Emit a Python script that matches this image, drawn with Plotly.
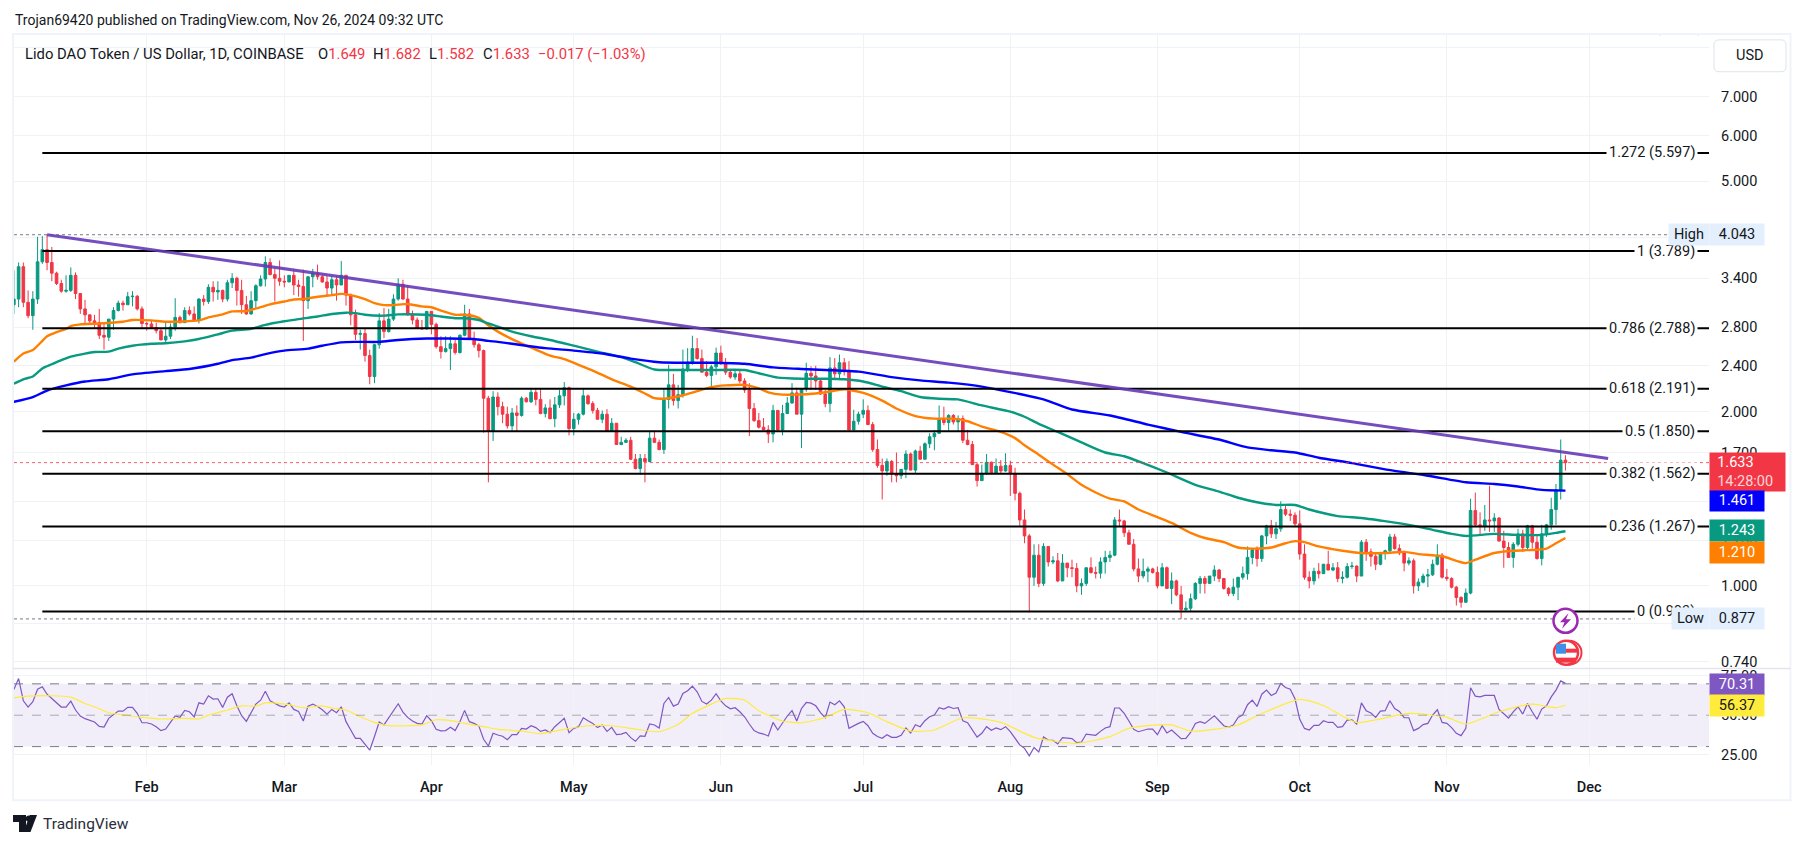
import math
import pandas as pd
import plotly.graph_objects as go

first_open = 3.06
closes = [
3.13,3.56,3.09,2.93,3.13,3.63,3.81,3.62,3.47,3.33,
3.23,3.24,3.44,3.20,3.01,2.94,2.87,2.85,2.71,2.69,
2.89,2.99,3.08,3.06,3.16,3.165,3.01,2.84,2.835,2.795,
2.76,2.66,2.70,2.80,2.91,2.85,2.99,2.95,2.88,3.13,
3.10,3.28,3.22,3.24,3.13,3.34,3.40,3.24,3.06,2.95,
3.11,3.30,3.39,3.62,3.45,3.40,3.36,3.35,3.44,3.31,
3.29,3.11,3.42,3.47,3.42,3.35,3.27,3.38,3.31,3.44,
3.18,2.94,2.72,2.73,2.50,2.30,2.61,2.87,2.75,2.89,
3.13,3.32,3.13,2.94,2.88,2.79,2.78,2.98,2.83,2.59,
2.54,2.57,2.62,2.53,2.71,2.95,2.67,2.61,2.55,2.11,
1.85,2.12,2.04,1.98,1.89,1.99,1.97,2.11,2.08,2.16,
2.10,1.985,2.03,1.945,2.055,2.13,2.20,1.87,1.94,1.98,
2.13,2.065,2.01,1.94,1.98,1.85,1.91,1.755,1.77,1.785,
1.655,1.595,1.66,1.64,1.80,1.77,1.72,2.10,2.225,2.09,
2.14,2.37,2.435,2.57,2.47,2.34,2.31,2.39,2.525,2.42,
2.34,2.295,2.325,2.26,2.18,2.025,1.93,1.88,1.86,1.83,
2.01,1.86,1.985,2.07,2.155,1.98,2.19,2.33,2.305,2.26,
2.145,2.065,2.38,2.325,2.43,2.345,1.86,1.925,1.98,2.01,
1.90,1.72,1.615,1.58,1.64,1.56,1.55,1.59,1.69,1.585,
1.71,1.655,1.76,1.81,1.835,1.94,1.915,1.97,1.92,1.945,
1.785,1.755,1.62,1.52,1.565,1.635,1.565,1.61,1.58,1.615,
1.565,1.445,1.30,1.22,1.035,1.13,1.01,1.17,1.10,1.105,
1.02,1.095,1.075,1.072,1.00,1.01,1.075,1.055,1.052,1.10,
1.12,1.13,1.30,1.295,1.235,1.18,1.07,1.04,1.06,1.07,
1.055,1.00,1.075,.99,1.02,.965,.91,.915,.95,1.01,
1.03,1.01,1.04,1.065,1.03,.99,.97,.995,1.035,1.05,
1.12,1.155,1.115,1.22,1.27,1.23,1.255,1.355,1.33,1.325,
1.28,1.135,1.035,1.02,1.06,1.05,1.09,1.065,1.075,1.03,
1.035,1.08,1.082,1.04,1.19,1.145,1.125,1.09,1.14,1.15,
1.215,1.16,1.14,1.095,1.105,1.00,1.015,1.04,1.045,1.09,
1.13,1.035,1.03,.995,.955,.937,.972,1.35,1.275,1.27,
1.30,1.295,1.31,1.195,1.165,1.12,1.18,1.23,1.165,1.27,
1.19,1.115,1.23,1.275,1.355,1.465,1.649,1.633]

highs = [
3.51,3.62,3.62,3.24,3.23,4.01,4.02,4.043,3.85,3.49,
3.38,3.44,3.55,3.48,3.20,3.12,2.94,2.94,3.01,2.85,
2.89,3.03,3.11,3.11,3.22,3.23,3.18,3.04,2.86,2.87,
2.85,2.78,2.86,2.84,3.14,2.93,3.03,3.04,3.04,3.14,
3.18,3.32,3.36,3.36,3.25,3.38,3.47,3.42,3.38,3.17,
3.23,3.32,3.44,3.71,3.68,3.53,3.65,3.44,3.44,3.53,
3.38,3.52,3.43,3.53,3.59,3.45,3.43,3.43,3.43,3.64,
3.44,3.20,3.00,2.77,2.79,2.56,2.62,2.96,3.02,3.01,
3.19,3.40,3.38,3.31,2.99,2.91,2.88,2.98,2.98,2.85,
2.70,2.70,2.70,2.66,2.72,3.06,3.01,2.75,2.63,2.56,
2.13,2.17,2.16,2.08,2.04,2.03,2.05,2.125,2.12,2.19,
2.19,2.19,2.06,2.10,2.12,2.18,2.25,2.21,1.99,1.99,
2.19,2.14,2.085,2.03,2.01,2.02,1.95,1.91,1.81,1.80,
1.81,1.69,1.69,1.69,1.85,1.855,1.79,2.195,2.41,2.325,
2.225,2.56,2.575,2.705,2.68,2.56,2.445,2.41,2.58,2.60,
2.475,2.37,2.37,2.37,2.285,2.24,2.07,1.99,1.95,1.895,
2.055,2.01,2.055,2.12,2.24,2.20,2.19,2.43,2.395,2.40,
2.285,2.18,2.485,2.475,2.51,2.475,2.445,2.015,2.00,2.10,
2.05,1.92,1.79,1.66,1.66,1.65,1.70,1.59,1.715,1.70,
1.72,1.745,1.77,1.835,1.86,2.05,2.04,1.98,1.98,1.97,
1.97,1.86,1.78,1.635,1.62,1.69,1.64,1.66,1.65,1.695,
1.645,1.60,1.455,1.355,1.23,1.18,1.18,1.185,1.17,1.125,
1.14,1.135,1.095,1.11,1.095,1.03,1.075,1.12,1.08,1.12,
1.15,1.15,1.315,1.355,1.30,1.25,1.205,1.115,1.115,1.08,
1.075,1.08,1.095,1.08,1.055,1.025,1.00,.94,.97,1.015,
1.04,1.04,1.04,1.085,1.07,1.03,.995,1.03,1.035,1.08,
1.17,1.16,1.17,1.225,1.275,1.30,1.29,1.40,1.38,1.355,
1.34,1.35,1.18,1.06,1.075,1.095,1.09,1.15,1.095,1.10,
1.06,1.095,1.10,1.085,1.20,1.205,1.16,1.14,1.145,1.155,
1.23,1.23,1.18,1.15,1.12,1.115,1.03,1.05,1.07,1.11,
1.18,1.14,1.07,1.035,1.00,.96,.99,1.415,1.45,1.34,
1.38,1.49,1.335,1.315,1.245,1.19,1.19,1.255,1.25,1.275,
1.275,1.23,1.275,1.28,1.42,1.50,1.79,1.682]

lows = [
2.95,3.03,3.03,2.90,2.77,3.07,3.60,3.51,3.36,3.31,
3.21,3.21,3.22,3.13,2.95,2.83,2.84,2.79,2.67,2.56,
2.65,2.77,2.98,2.99,3.06,3.04,2.99,2.79,2.76,2.78,
2.73,2.66,2.63,2.67,2.76,2.84,2.86,2.93,2.87,2.84,
3.05,3.07,3.10,3.12,3.09,3.10,3.27,3.05,2.95,2.94,
2.94,3.02,3.29,3.29,3.44,3.10,3.30,3.28,3.35,3.18,
3.16,2.65,3.01,3.28,3.38,3.34,3.18,3.18,3.11,3.31,
3.05,2.82,2.66,2.56,2.44,2.23,2.24,2.57,2.68,2.74,
2.87,3.11,3.12,2.93,2.83,2.78,2.77,2.77,2.72,2.57,
2.47,2.53,2.36,2.51,2.52,2.70,2.66,2.58,2.48,1.84,
1.51,1.78,1.97,1.91,1.87,1.85,1.85,1.96,2.075,2.07,
2.05,1.98,1.955,1.94,1.88,2.03,2.05,1.82,1.82,1.90,
1.97,2.055,1.985,1.94,1.91,1.85,1.85,1.755,1.75,1.765,
1.65,1.59,1.555,1.51,1.635,1.765,1.715,1.69,2.025,2.05,
2.025,2.115,2.34,2.41,2.46,2.34,2.295,2.205,2.315,2.41,
2.315,2.28,2.27,2.24,2.155,1.815,1.92,1.87,1.855,1.765,
1.77,1.855,1.82,1.98,2.065,1.98,1.73,2.165,2.18,2.18,
2.14,2.035,1.995,2.28,2.285,2.31,1.86,1.855,1.90,1.95,
1.895,1.705,1.60,1.41,1.55,1.51,1.51,1.53,1.535,1.585,
1.56,1.655,1.655,1.73,1.715,1.83,1.895,1.855,1.90,1.85,
1.765,1.75,1.62,1.485,1.52,1.555,1.56,1.565,1.565,1.575,
1.43,1.405,1.27,1.185,.90,1.00,.995,1.00,1.08,1.09,
1.015,1.02,1.035,1.035,.975,.965,1.00,1.05,1.03,1.03,
1.05,1.10,1.125,1.265,1.215,1.18,1.06,1.015,1.03,1.015,
1.05,.99,1.00,.99,.93,.96,.877,.905,.905,.945,
.97,.97,1.01,1.02,1.015,.985,.96,.96,.945,1.025,
1.025,1.09,1.08,1.10,1.18,1.21,1.205,1.24,1.32,1.295,
1.265,1.11,1.025,.99,1.005,1.03,1.05,1.065,1.06,1.015,
1.01,1.03,1.07,1.015,1.04,1.105,1.08,1.065,1.085,1.11,
1.14,1.155,1.13,1.06,1.085,.97,.98,1.01,.995,1.04,
1.085,1.03,1.02,.99,.925,.917,.936,.967,1.267,1.225,
1.245,1.24,1.24,1.195,1.075,1.12,1.075,1.17,1.145,1.155,
1.16,1.11,1.085,1.215,1.25,1.275,1.41,1.582]

opens = [first_open] + closes[:-1]

rsi = [
66.4,73.4,59.2,55.2,58.6,66.6,68.1,63.4,60.7,57.9,
55.2,55.2,59,53.3,49.5,47.8,46.5,45.7,42.9,42.5,
48,50.3,52.6,52.6,55,55,51.2,45.2,45.2,44.4,
42.7,40.2,41.2,45.4,49.5,48.6,53.1,52.2,49,57.9,
57.1,62.4,60.3,60.5,55,61.5,63.7,56,49.7,46.1,
51.6,57.1,59.6,65.3,59.2,57.5,56,55.2,57.9,53.7,
52.4,46.3,55.8,57.1,55.6,53.5,50.7,53.7,51.6,55.4,
45.9,40.6,35.3,35.3,31.1,27.7,36.4,45.7,43.8,48.4,
52.9,57.3,52,48.6,46.3,44.8,44.4,49.7,46.5,41,
40,40.2,42.3,40.2,45.9,53.1,45.9,44.8,43.1,34.7,
30.4,38.5,37.4,36.6,34.4,37.6,37.6,41.6,41.2,43.3,
42.1,39.7,40.6,38.9,42.7,45.4,48,38.9,41.6,42.7,
48.4,46.5,44.8,42.1,43.8,39.7,42.3,37.6,38,39.1,
35.7,33.4,36.8,36.6,44.4,43.8,41.9,57.5,61.3,55.8,
57.1,63.9,65.6,68.5,64.9,58.8,57.1,59.6,63.7,59.2,
56,54.1,54.8,52.2,49,44.4,40.2,38.7,38,36.8,
45.4,40.6,45.2,49.5,52.9,46.3,54.3,58.1,57.7,56,
51.6,48.4,58.4,56.7,59.2,55.4,41.6,43.3,44.8,46.1,
43.3,38.5,36.4,35.3,37.6,35.9,35.9,37.2,41.9,38.7,
44,42.7,46.5,49,50.1,54.8,53.9,55.4,54.3,54.8,
46.5,45.2,40.2,36.1,38.5,42.7,40.4,41.9,40.8,42.7,
39.5,35.3,31.1,28.9,24.1,29.4,26.6,36.1,34.2,34,
31.7,35.7,35.3,35.1,32.5,32.9,38,37.4,37.2,39.7,
41.9,42.7,54.6,54.6,51.2,46.3,41,39.5,40.2,41.2,
41.2,37.6,43.3,38.7,40.6,37.6,35.1,35.3,39,44.8,
45.9,44.8,47.4,49.7,46.5,43.3,42.3,43.8,48.6,50.3,
56.7,59.6,55.6,63.4,66,62.6,64.1,70.2,67.7,66.6,
60.5,47.4,41.6,40.6,43.5,43.5,46.5,45.4,45.4,42.3,
42.7,46.9,47.1,44.4,57.9,52.9,51.4,48.6,52.6,52.9,
59.2,54.3,52.4,48.4,48.4,40.2,41.6,44,44.8,50.1,
53.5,45.4,44.8,42.1,38.5,37,41.6,67.5,62.2,61.7,
62.6,62.4,62.6,53.7,51.2,48.2,52.2,55.4,50.7,57.5,
52.2,47.4,53.9,56,61.7,66,71.9,70.31]

rsi_ma_days = [0,3,8,12,15,17,20,24,27,31,36,39,41,45,48,51,53,58,61,65,67,70,73,76,79,83,86,89,92,95,99,102,107,111,116,121,126,131,136,140,143,147,150,154,157,162,166,171,175,180,184,189,194,200,208,215,224,231,235,241,244,248,253,258,262,271,276,283,294,302,306,313,320,325,327]
rsi_ma = [61.1,62.2,62.4,61.5,57.5,55.4,51.6,49.9,48.6,47.6,48,47.6,50.1,53.3,56,55.8,57.9,56.7,54.8,56,54.6,53.3,49,45.4,43.3,43.3,43.8,47.1,46.5,44.8,42.7,41,39.9,38.3,41,43.3,43.3,41.2,39.5,44.2,51.2,57.1,60.7,59.6,52.9,46.3,45.2,48.6,53.7,51.6,45.9,39.9,40.6,48.4,45.4,35.9,32.1,36.4,41.6,43.8,43.8,39.9,41,43.8,49.7,60.1,56.2,45.4,51.2,48.6,44.4,52.2,57.1,54.8,56.37]

ema_fast_days = [0,2,4,6,7,9,11,12,14,18,23,25,29,32,39,41,44,46,49,52,54,57,59,61,63,67,69,71,74,76,78,80,83,86,88,90,93,95,98,100,102,106,110,113,116,119,122,126,130,133,135,138,141,144,147,150,154,157,159,162,165,169,171,175,179,183,186,190,194,198,201,204,208,211,213,216,219,222,225,228,231,234,237,241,244,248,251,255,258,261,265,268,270,272,275,280,284,289,293,296,301,306,308,312,316,321,323,325,327]
ema_fast = [2.44,2.52,2.555,2.65,2.70,2.745,2.78,2.81,2.83,2.84,2.86,2.88,2.875,2.86,2.875,2.91,2.945,2.98,2.985,3.03,3.065,3.10,3.125,3.13,3.15,3.18,3.195,3.18,3.13,3.08,3.055,3.055,3.07,3.04,3.03,2.99,2.94,2.94,2.905,2.82,2.75,2.645,2.56,2.50,2.465,2.41,2.355,2.275,2.21,2.15,2.11,2.11,2.135,2.17,2.205,2.22,2.225,2.195,2.16,2.14,2.14,2.15,2.16,2.185,2.155,2.09,2.025,1.965,1.945,1.945,1.925,1.885,1.845,1.80,1.75,1.685,1.62,1.56,1.495,1.45,1.415,1.40,1.355,1.315,1.285,1.235,1.21,1.19,1.165,1.16,1.165,1.185,1.195,1.19,1.17,1.15,1.14,1.14,1.145,1.135,1.125,1.095,1.11,1.14,1.15,1.155,1.16,1.185,1.21]

ema_mid_days = [0,2,4,6,8,10,12,15,17,20,22,25,29,32,36,39,43,46,50,53,57,60,64,67,70,72,74,78,81,87,90,93,95,98,100,102,105,109,113,118,123,128,131,135,139,144,147,154,157,161,166,171,175,179,183,187,191,195,199,204,210,213,216,220,225,230,234,238,243,249,254,258,262,266,270,273,279,284,290,294,299,303,306,312,317,322,325,327]
ema_mid = [2.235,2.275,2.30,2.375,2.415,2.455,2.49,2.52,2.535,2.54,2.57,2.60,2.62,2.625,2.645,2.67,2.72,2.76,2.78,2.825,2.865,2.89,2.92,2.95,2.965,2.96,2.94,2.93,2.945,2.94,2.92,2.90,2.90,2.88,2.84,2.805,2.75,2.70,2.66,2.60,2.54,2.485,2.435,2.365,2.36,2.36,2.36,2.36,2.33,2.29,2.28,2.28,2.275,2.255,2.21,2.17,2.12,2.105,2.10,2.05,2.00,1.96,1.905,1.845,1.77,1.70,1.675,1.63,1.57,1.495,1.455,1.42,1.395,1.38,1.38,1.355,1.32,1.31,1.29,1.275,1.25,1.23,1.22,1.23,1.225,1.225,1.235,1.243]

ema_slow_days = [0,4,7,11,15,20,25,32,37,43,46,50,53,57,62,65,69,72,77,81,87,91,97,100,102,105,112,118,124,130,136,142,147,154,160,166,171,178,185,191,197,204,217,223,231,239,246,254,260,265,270,275,282,289,298,306,312,317,322,327]
ema_slow = [2.08,2.12,2.175,2.22,2.255,2.275,2.32,2.35,2.37,2.42,2.455,2.48,2.515,2.55,2.57,2.60,2.635,2.64,2.64,2.66,2.675,2.675,2.67,2.65,2.64,2.62,2.575,2.55,2.52,2.47,2.435,2.43,2.43,2.42,2.385,2.37,2.36,2.345,2.295,2.265,2.245,2.21,2.10,2.017,1.97,1.90,1.845,1.79,1.735,1.715,1.70,1.665,1.63,1.59,1.55,1.51,1.50,1.485,1.465,1.461]

fib_levels = ["1.272","1","0.786","0.618","0.5","0.382","0.236","0"]
fib_prices = [5.597,3.789,2.788,2.191,1.850,1.562,1.267,0.903]
high_price, low_price, last_price = 4.043, 0.877, 1.633
trend_dates = ["2024-01-11","2024-12-05"]
trend_prices = [4.043,1.66]

price_ticks = [8.5,7,6,5,4,3.4,2.8,2.4,2,1.7,1.4,1.2,1,0.86,0.74]
rsi_ticks = [75,50,25]
month_ticks = ["2024-02-01","2024-03-01","2024-04-01","2024-05-01","2024-06-01","2024-07-01","2024-08-01","2024-09-01","2024-10-01","2024-11-01","2024-12-01"]
month_labels = ["Feb","Mar","Apr","May","Jun","Jul","Aug","Sep","Oct","Nov","Dec"]

assert len(closes)==328 and len(highs)==328 and len(lows)==328 and len(rsi)==328
assert len(rsi_ma)==len(rsi_ma_days) and len(ema_fast)==len(ema_fast_days)
assert len(ema_mid)==len(ema_mid_days) and len(ema_slow)==len(ema_slow_days)

W, H = 1804, 846
PL, PR, PT, PSEP, PB = 14, 1709, 33.5, 670, 767
FONT = "Roboto"
TXT = "#131722"
RED, GREEN, BLUE, ORANGE, PURPLE = "#f23645", "#089981", "#0000ff", "#ff7f00", "#7e57c2"
GRID = "#f1f2f6"
LABEL_SIZE = 14.5

def X(px): return px / W
def Y(py): return 1 - py / H

dates = pd.date_range("2024-01-04", periods=len(closes), freq="D")
def at(days): return [dates[d] for d in days]

x_range = ["2024-01-04 00:43", "2024-12-26 06:00"]
fib_x = ["2024-01-10", x_range[1]]

fig = go.Figure()
fig.add_trace(go.Candlestick(x=dates, open=opens, high=highs, low=lows, close=closes,
    increasing=dict(line=dict(color=GREEN, width=1), fillcolor=GREEN),
    decreasing=dict(line=dict(color=RED, width=1), fillcolor=RED),
    whiskerwidth=0, hoverinfo="skip", xaxis="x", yaxis="y"))

for days, vals, col in [(ema_fast_days, ema_fast, ORANGE), (ema_mid_days, ema_mid, GREEN), (ema_slow_days, ema_slow, BLUE)]:
    fig.add_trace(go.Scatter(x=at(days), y=vals, mode="lines", line=dict(color=col, width=2.4, shape="spline", smoothing=0.6),
                             hoverinfo="skip", xaxis="x", yaxis="y"))

for p in fib_prices:
    fig.add_trace(go.Scatter(x=fib_x, y=[p, p], mode="lines", line=dict(color="#000000", width=2),
                             hoverinfo="skip", xaxis="x", yaxis="y"))

for p, col, w in [(high_price, "#787b86", 1), (low_price, "#787b86", 1), (last_price, RED, 0.8)]:
    fig.add_trace(go.Scatter(x=x_range, y=[p, p], mode="lines", line=dict(color=col, width=w, dash="dot"),
                             hoverinfo="skip", xaxis="x", yaxis="y"))

fig.add_trace(go.Scatter(x=trend_dates, y=trend_prices, mode="lines", line=dict(color="#673ab7", width=3),
                         opacity=0.9, hoverinfo="skip", xaxis="x", yaxis="y"))

fig.add_trace(go.Scatter(x=["2024-12-24 21:00"], y=[9.19], mode="text", text=["1.618 (9.190)"], textposition="middle left",
                         textfont=dict(family=FONT, size=LABEL_SIZE, color=TXT), cliponaxis=True, hoverinfo="skip", xaxis="x", yaxis="y"))

fig.add_trace(go.Scatter(x=dates, y=rsi, mode="lines", line=dict(color=PURPLE, width=1.2), hoverinfo="skip", xaxis="x2", yaxis="y2"))
fig.add_trace(go.Scatter(x=at(rsi_ma_days), y=rsi_ma, mode="lines", line=dict(color="#ffeb3b", width=1.2, shape="spline", smoothing=0.6),
                         hoverinfo="skip", xaxis="x2", yaxis="y2"))
for lv, col in [(70, "#787b86"), (50, "rgba(120,123,134,0.6)"), (30, "#787b86")]:
    fig.add_trace(go.Scatter(x=x_range, y=[lv, lv], mode="lines", line=dict(color=col, width=1, dash="dash"),
                             hoverinfo="skip", xaxis="x2", yaxis="y2"))

shapes = [
    dict(type="rect", xref="paper", yref="y2", x0=X(PL), x1=X(PR), y0=30, y1=70, fillcolor="rgba(126,87,194,0.1)", line_width=0, layer="below"),
    dict(type="rect", xref="paper", yref="paper", x0=X(13), x1=X(1790.5), y0=Y(33), y1=Y(802), line=dict(color="#f0f3fa", width=2)),
    dict(type="line", xref="paper", yref="paper", x0=X(13), x1=X(1790.5), y0=Y(PSEP), y1=Y(PSEP), line=dict(color="#e6e3f0", width=1.5)),
]

def rounded(x0, y0, x1, y1, r):
    a, b, c, d = X(x0), Y(y0), X(x1), Y(y1)
    rx, ry = r / W, r / H
    return (f"M {a+rx} {b} L {c-rx} {b} Q {c} {b} {c} {b-ry} L {c} {d+ry} Q {c} {d} {c-rx} {d} "
            f"L {a+rx} {d} Q {a} {d} {a} {d+ry} L {a} {b-ry} Q {a} {b} {a+rx} {b} Z")
shapes.append(dict(type="path", path=rounded(1714, 39, 1786, 71, 5), xref="paper", yref="paper", fillcolor="#ffffff", line=dict(color="#e0e3eb", width=1)))

def circle(cx, cy, r, **kw):
    return dict(type="circle", xref="paper", yref="paper", x0=X(cx-r), x1=X(cx+r), y0=Y(cy-r), y1=Y(cy+r), **kw)
# event markers
shapes.append(circle(1565.5, 622, 12, fillcolor="#ffffff", line=dict(color="#9c27b0", width=2.5)))
bolt = [(1568.5,614.5),(1560,623.5),(1564.5,623.5),(1562,630),(1571,620.5),(1566,620.5)]
shapes.append(dict(type="path", xref="paper", yref="paper", fillcolor="#9c27b0", line_width=0,
                   path="M " + " L ".join(f"{X(a)} {Y(b)}" for a, b in bolt) + " Z"))
shapes.append(circle(1569.5, 654, 12, fillcolor="#ffffff", line=dict(color=RED, width=2)))
shapes.append(circle(1566, 654, 12, fillcolor="#ffffff", line=dict(color=RED, width=2.5)))
shapes.append(dict(type="rect", xref="paper", yref="paper", x0=X(1556), x1=X(1576), y0=Y(659), y1=Y(664), fillcolor=RED, line_width=0))
shapes.append(dict(type="rect", xref="paper", yref="paper", x0=X(1566), x1=X(1577), y0=Y(650), y1=Y(654), fillcolor=RED, line_width=0))
shapes.append(dict(type="rect", xref="paper", yref="paper", x0=X(1556), x1=X(1566), y0=Y(645), y1=Y(655), fillcolor="#3d8fe8", line_width=0))
# TradingView mark
tv = [[(13,817),(26,817),(26,834),(19,834),(19,824),(13,824)],
      [(37,817),(30.5,834),(23.5,834),(30,817)]]
for poly in tv:
    shapes.append(dict(type="path", xref="paper", yref="paper", fillcolor=TXT, line_width=0,
                       path="M " + " L ".join(f"{X(a)} {Y(b)}" for a, b in poly) + " Z"))
shapes.append(circle(29, 820.5, 3.2, fillcolor=TXT, line_width=0))

ann = []
def text(px, py, s, size=14, color=TXT, anchor="left", **kw):
    ann.append(dict(xref="paper", yref="paper", x=X(px), y=Y(py), text=s, showarrow=False, xanchor=anchor, yanchor="middle",
                    font=dict(family=FONT, size=size, color=color), **kw))

text(13, 19.5, "Trojan69420 published on TradingView.com, Nov 26, 2024 09:32 UTC")
text(23, 53, "Lido DAO Token / US Dollar, 1D, COINBASE", size=14.8)
for px, head, val in [(316, "O", "1.649"), (371, "H", "1.682"), (427, "L", "1.582"), (481, "C", "1.633")]:
    text(px, 53, f'{head}<span style="color:{RED}">{val}</span>', size=14.8)
text(536, 53, "−0.017 (−1.03%)", size=14.8, color=RED)
text(1750, 55, "USD", anchor="center", size=LABEL_SIZE, color=TXT)
text(41, 825.5, "TradingView", size=15.5, color="#2a2e39")

for lev, p in zip(fib_levels, fib_prices):
    ann.append(dict(xref="paper", yref="y", x=X(1698), y=math.log10(p), text=f"{lev} ({p:.3f})", showarrow=False,
                    xanchor="right", yanchor="middle", bgcolor="#ffffff", borderpad=2,
                    font=dict(family=FONT, size=LABEL_SIZE, color=TXT)))

def box(px0, px1, py0, py1, s, bg, fg="#ffffff", align="center"):
    ann.append(dict(xref="paper", yref="paper", x=X((px0+px1)/2), y=Y((py0+py1)/2), width=px1-px0, height=py1-py0,
                    text=s, showarrow=False, xanchor="center", yanchor="middle", align=align, valign="middle",
                    bgcolor=bg, borderpad=0, font=dict(family=FONT, size=LABEL_SIZE, color=fg)))

box(1669, 1709, 224, 245, "High", "#e3effd", TXT)
box(1710, 1764, 224, 245, f"{high_price:.3f}", "#e3effd", TXT)
box(1672, 1709, 609, 630, "Low", "#e3effd", TXT)
box(1710, 1764, 609, 630, f"{low_price:.3f}", "#e3effd", TXT)
box(1710, 1785, 453.5, 491.5, f'&nbsp;&nbsp;{last_price:.3f}<br>&nbsp;&nbsp;<span style="color:rgba(255,255,255,0.8)">14:28:00</span>', RED, align="left")
box(1710, 1764, 492, 511.5, f"{ema_slow[-1]:.3f}", BLUE)
box(1710, 1764, 521, 542, f"{ema_mid[-1]:.3f}", GREEN)
box(1710, 1764, 543, 564, f"{ema_fast[-1]:.3f}", ORANGE)
box(1710, 1764, 675, 696, f"{rsi[-1]:.2f}", PURPLE)
box(1710, 1764, 697, 718, f"{rsi_ma[-1]:.2f}", "#ffeb3b", TXT)

tick_font = dict(family=FONT, size=LABEL_SIZE, color=TXT)
fig.update_layout(
    width=W, height=H, margin=dict(l=0, r=0, t=0, b=0), paper_bgcolor="#ffffff", plot_bgcolor="#ffffff",
    showlegend=False, boxgap=0.22, shapes=shapes, annotations=ann, hovermode=False,
    xaxis=dict(domain=[X(PL), X(PR)], range=x_range, type="date", rangeslider=dict(visible=False), anchor="y",
               tickmode="array", tickvals=month_ticks, ticktext=[""]*len(month_ticks), showgrid=True, gridcolor=GRID, gridwidth=1,
               zeroline=False, showline=False, ticks=""),
    yaxis=dict(domain=[Y(PSEP), Y(PT)], type="log", range=[-0.1429, 0.9528], side="right", anchor="x",
               tickmode="array", tickvals=price_ticks, ticktext=[f"{v:.3f}" for v in price_ticks], tickfont=tick_font,
               showgrid=True, gridcolor=GRID, gridwidth=1, zeroline=False, showline=False, ticks="", ticklabelstandoff=11),
    xaxis2=dict(domain=[X(PL), X(PR)], range=x_range, type="date", anchor="y2",
                tickmode="array", tickvals=month_ticks, ticktext=month_labels,
                tickfont=dict(family=FONT, size=LABEL_SIZE, color=TXT, weight=500),
                showgrid=True, gridcolor=GRID, gridwidth=1, zeroline=False, showline=False, ticks="", ticklabelstandoff=11),
    yaxis2=dict(domain=[Y(PB), Y(PSEP)], range=[18.1, 79.7], side="right", anchor="x2",
                tickmode="array", tickvals=rsi_ticks, ticktext=[f"{v:.2f}" for v in rsi_ticks], tickfont=tick_font,
                showgrid=True, gridcolor=GRID, gridwidth=1, zeroline=False, showline=False, ticks="", ticklabelstandoff=11),
)

fig.write_html("out.html", config=dict(displayModeBar=False), post_script="document.body.style.margin='0';document.body.style.overflow='hidden';")
